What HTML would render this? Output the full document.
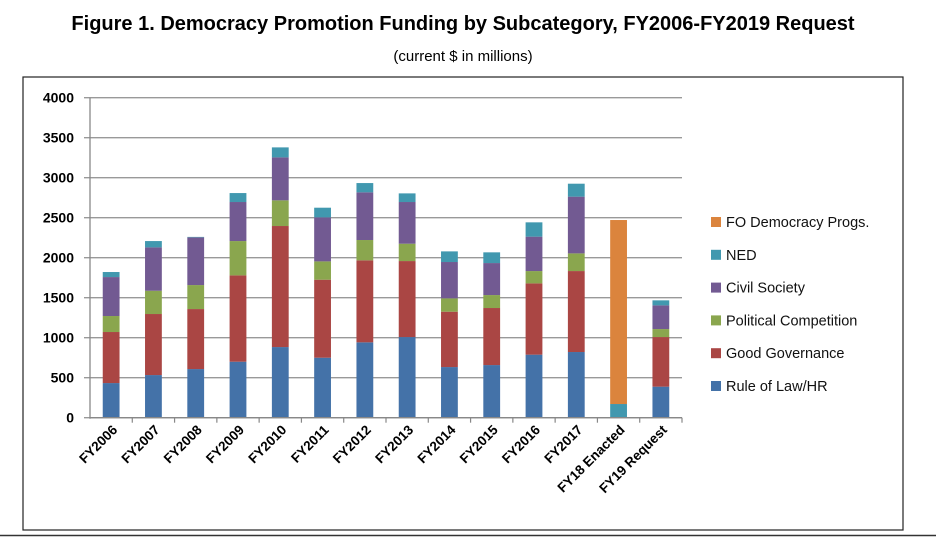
<!DOCTYPE html>
<html><head><meta charset="utf-8">
<style>
body{margin:0;background:#fff;width:936px;height:538px;overflow:hidden;font-family:"Liberation Sans",sans-serif;}
</style></head>
<body>
<svg width="936" height="538" xmlns="http://www.w3.org/2000/svg">
<text x="463" y="30" text-anchor="middle" font-size="20" font-weight="bold">Figure 1. Democracy Promotion Funding by Subcategory, FY2006-FY2019 Request</text>
<text x="463" y="61" text-anchor="middle" font-size="15">(current $ in millions)</text>
<rect x="23" y="77" width="880" height="453" fill="none" stroke="#222" stroke-width="1.2"/>
<line x1="0" y1="535.5" x2="936" y2="535.5" stroke="#333" stroke-width="1.5"/>
<g id="grid"></g><g id="bars"></g><g id="axes"></g><g id="legend"></g>
</svg>
<script>
const categories=["FY2006","FY2007","FY2008","FY2009","FY2010","FY2011","FY2012","FY2013","FY2014","FY2015","FY2016","FY2017","FY18 Enacted","FY19 Request"];
const ruleOfLaw=[433,533,608,700,883,750,942,1008,633,658,788,821,0,388];
const goodGov=[638,763,750,1079,1513,975,1025,950,692,713,891,1012,0,620];
const polComp=[200,291,300,429,321,229,254,217,167,162,154,221,0,100];
const civilSoc=[487,542,596,488,537,550,596,521,454,400,430,709,0,296];
const ned=[63,79,6,112,125,121,116,108,133,134,179,162,171,63];
const foDem=[0,0,0,0,0,0,0,0,0,0,0,0,2300,0];
const yTicks=[0,500,1000,1500,2000,2500,3000,3500,4000];
const seriesNames=["Rule of Law/HR","Good Governance","Political Competition","Civil Society","NED","FO Democracy Progs."];
const seriesColors=["#4472a8","#aa4644","#8aa64e","#725a92","#4198af","#db843d"];
const seriesData=[ruleOfLaw,goodGov,polComp,civilSoc,ned,foDem];
const NS="http://www.w3.org/2000/svg";
const X0=90,X1=682,Y0=417.7,YTOP=97.7,YMAX=4000;
const step=(X1-X0)/categories.length;
function y(v){return Y0-(v/YMAX)*(Y0-YTOP);}
function xc(i){return X0+step*(i+0.5);}
function mk(tag,attrs,parent){const e=document.createElementNS(NS,tag);for(const k in attrs)e.setAttribute(k,attrs[k]);parent.appendChild(e);return e;}
const grid=document.getElementById('grid'),bars=document.getElementById('bars'),axes=document.getElementById('axes'),legend=document.getElementById('legend');
yTicks.forEach(t=>{
 const l=mk('line',{x1:X0-6,x2:X1,y1:y(t),y2:y(t),stroke:'#999','stroke-width':1.3},grid);
 
 
 const tx=mk('text',{x:74,y:y(t)+5,'text-anchor':'end','font-size':14,'font-weight':'bold'},axes);
 tx.textContent=t;
 
 
});
const ax=mk('line',{x1:X0,x2:X0,y1:YTOP,y2:Y0+1,stroke:'#888','stroke-width':1.3},axes);


categories.forEach((c,i)=>{
 let cum=0;
 seriesData.forEach((s,k)=>{
  const v=s[i]; if(v<=0)return;
  const r=mk('rect',{x:xc(i)-8.4,width:16.8,y:y(cum+v),height:y(cum)-y(cum+v),fill:seriesColors[k]},bars);
  
  
  cum+=v;
 });
 const tk=mk('line',{x1:X0+step*(i+1),x2:X0+step*(i+1),y1:Y0,y2:Y0+5,stroke:'#888','stroke-width':1.2},axes);
 
 
 const lx=xc(i)+7, ly=Y0+13;
 const tx=mk('text',{x:lx,y:ly,'text-anchor':'end','font-size':13.5,'font-weight':'bold',transform:`rotate(-45 ${lx} ${ly})`},axes);
 tx.textContent=c;
 
 
});
const xa=mk('line',{x1:X0,x2:X1,y1:Y0,y2:Y0,stroke:'#888','stroke-width':1.3},axes);


for(let k=5;k>=0;k--){
 const row=5-k, cy=222+row*32.8;
 const g=mk('g',{},legend);
 
 
 mk('rect',{x:711,y:cy-5,width:10,height:10,fill:seriesColors[k]},g);
 const t=mk('text',{x:726,y:cy+5,'font-size':14.5,fill:'#111'},g);
 t.textContent=seriesNames[k];
}
</script>
</body></html>
